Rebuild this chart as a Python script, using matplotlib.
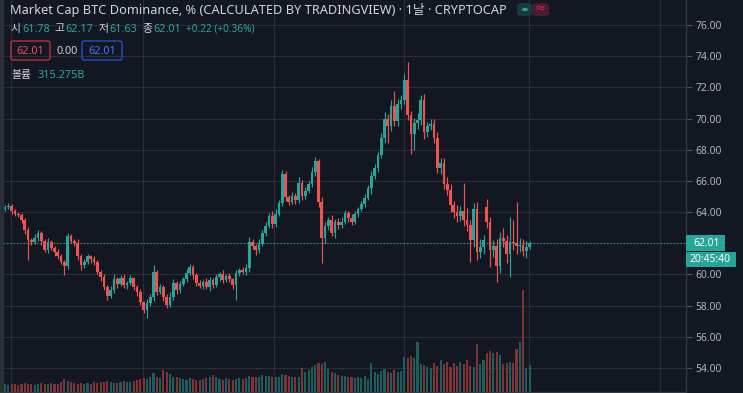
import numpy as np
import matplotlib
matplotlib.use("Agg")
import matplotlib.pyplot as plt
from matplotlib.patches import Rectangle, FancyBboxPatch, Circle
from matplotlib.transforms import blended_transform_factory, Affine2D

plt.rcParams['font.family'] = ['Noto Sans', 'Noto Sans CJK KR', 'DejaVu Sans']

# daily closes, BTC dominance %
closes = [64.33, 64.40, 64.07, 63.88, 63.81, 63.49, 62.85, 62.21, 62.08, 62.34,
          62.66, 62.15, 61.57, 62.08, 61.70, 61.44, 61.18, 60.80, 60.54, 62.47,
          62.15, 62.02, 61.18, 60.61, 60.80, 61.18, 60.99, 60.80, 60.16, 59.84,
          59.20, 58.62, 59.00, 59.70, 59.38, 59.77, 59.32, 59.45, 59.77, 59.20,
          58.87, 58.23, 57.72, 58.17, 58.55, 60.16, 58.87, 59.20, 58.55, 58.04,
          58.55, 59.45, 59.00, 59.38, 59.70, 60.09, 60.48, 59.96, 59.45, 59.26,
          59.51, 59.20, 59.64, 59.32, 59.84, 60.03, 59.64, 59.90, 59.70, 59.32,
          60.09, 60.29, 60.16, 60.41, 62.08, 61.83, 61.57, 61.95, 62.66, 63.11,
          63.75, 63.24, 63.88, 64.58, 66.44, 64.97, 64.65, 65.03, 64.77, 65.87,
          65.03, 65.35, 65.80, 66.57, 67.28, 64.65, 62.34, 63.11, 63.49, 62.66,
          63.36, 63.17, 63.36, 63.94, 63.62, 63.36, 63.88, 64.20, 64.52, 64.90,
          65.55, 66.31, 66.83, 67.66, 68.75, 69.97, 69.52, 70.80, 69.84, 70.93,
          71.19, 72.47, 70.23, 69.01, 69.71, 69.91, 71.19, 69.14, 69.52, 69.65,
          68.75, 66.83, 67.15, 65.80, 65.42, 64.45, 64.00, 63.75, 64.07, 63.49,
          63.17, 62.21, 64.20, 61.44, 61.76, 62.21, 63.36, 61.57, 61.83, 60.54,
          62.34, 62.15, 61.31, 62.08, 62.02, 61.83, 61.89, 61.51, 61.79, 62.01]
first_open = 64.20
gap_opens = {146: 64.30, 159: 61.78}

up_wick = [.15, .20, .10, .15, .10, .15, .10, .20, .15, .25,
           .20, .15, .10, .25, .15, .10, .20, .15, .10, .20,
           .15, .10, .25, .15, .20, .15, .10, .20, .15, .10,
           .20, .15, .25, .30, .15, .20, .25, .15, .20, .10,
           .15, .20, .10, .25, .20, .45, .15, .20, .15, .20,
           .30, .25, .15, .20, .15, .25, .20, .10, .15, .20,
           .15, .25, .20, .15, .20, .10, .25, .15, .20, .10,
           .20, .15, .20, .25, .30, .20, .15, .30, .20, .25,
           .20, .35, .30, .20, .25, .20, .15, .25, .20, .35,
           .20, .25, .20, .30, .25, .15, .30, .25, .20, .30,
           .20, .25, .30, .20, .15, .25, .20, .15, .20, .25,
           .20, .30, .25, .20, .30, .45, .30, .40, .95, .30,
           .35, .40, 1.16, .25, .30, .45, .30, .40, .25, .35,
           .30, .40, .35, .30, .45, .40, .25, .45, .30, 1.80,
           .80, .35, .40, .45, .50, .35, .54, .30, .35, .45,
           .40, .65, .35, 1.60, 1.40, 2.60, .45, .40, .35, .16]

dn_wick = [.10, .15, .20, .10, .15, .20, .25, 1.30, .20, .15,
           .20, .25, .15, .20, .15, .25, .20, .15, .58, .20,
           .15, .20, .25, .30, .20, .15, .25, .20, .15, .25,
           .20, .25, .15, .20, .25, .15, .20, .25, .15, .20,
           .25, .20, .20, .52, .20, .25, .20, .15, .25, .20,
           .15, .20, .25, .20, .15, .20, .15, .25, .20, .15,
           .20, .15, .25, .20, .15, .25, .20, .15, .20, .25,
           .96, .20, .15, .20, .25, .20, .30, .20, .15, .20,
           .15, .25, .20, .15, .20, .25, .20, .15, .25, .20,
           .25, .20, .15, .20, .25, .30, 1.60, .30, .25, .20,
           .30, .25, .20, .15, .25, .20, .15, .20, .15, .20,
           .15, .40, .20, .25, .20, .30, 1.10, .35, .30, .35,
           .30, .25, .35, 1.30, 1.00, .40, .35, .45, .30, .25,
           .35, .30, .40, .35, .30, .45, .35, .40, .30, .35,
           .40, 1.40, .45, .50, .40, .45, .35, 1.10, .45, 1.00,
           .45, .40, .55, 1.50, .45, .50, .40, .35, .45, .15]

# volume, billions USD
volume = [95, 80, 90, 85, 75, 90, 100, 95, 85, 80, 90, 105, 95, 85, 100, 90, 95, 110,
          150, 130, 110, 100, 95, 105, 90, 100, 95, 110, 100, 115, 120, 130, 110, 105,
          100, 120, 125, 110, 115, 130, 135,
          150, 160, 155, 170, 220, 180, 160, 265, 235, 210,
          180, 170, 160, 150, 145, 165, 150, 140, 135, 150, 160, 175, 200, 170, 150,
          145, 160, 150, 140, 155, 165, 150, 160, 190, 175,
          180, 170, 200, 185, 190, 175, 180, 170, 210, 195, 185, 175, 170, 180,
          280, 230, 260, 300, 320, 340, 330, 360, 270, 240, 220, 200, 190,
          185, 175, 180, 165, 170, 160, 190, 155, 350, 230, 210, 250, 270, 240, 220,
          260, 230, 250,
          420, 410, 430, 400, 600, 330, 320, 300, 280, 340,
          310, 380, 330, 360, 300, 340, 310, 360, 330, 380, 310, 300, 570, 330, 380,
          460, 490, 470, 480, 440, 330, 350, 360, 340, 520, 600, 1230, 290, 315.275]

price_ticks = [54, 56, 58, 60, 62, 64, 66, 68, 70, 72, 74, 76]
time_grid = [1.8, 41.8, 81.5, 120.9, 158.8, 198.5]
title = "Market Cap BTC Dominance, % (CALCULATED BY TRADINGVIEW) · 1날 · CRYPTOCAP"
ohlc_legend = [("시", "61.78"), ("고", "62.17"), ("저", "61.63"), ("종", "62.01")]
change_text = "+0.22 (+0.36%)"
countdown = "20:45:40"

BG = '#131722'
GRID = '#2a2e39'
UP = '#26a69a'
DOWN = '#ef5350'
VUP = '#1c5e5c'
VDOWN = '#7e3337'
TEXT = '#d1d4dc'
AXTXT = '#b2b5be'

W, H = 743, 393
fig = plt.figure(figsize=(W / 100, H / 100), dpi=100)
fig.patch.set_facecolor(BG)
ax = fig.add_axes([0, 0, 686 / W, 1])
ax.set_facecolor(BG)

opens = [first_open] + closes[:-1]
for k, v in gap_opens.items():
    opens[k] = v
o = np.array(opens)
c = np.array(closes)
x = np.arange(len(c))
hi = np.maximum(o, c) + np.array(up_wick)
lo = np.minimum(o, c) - np.array(dn_wick)
rising = c >= o
col = np.where(rising, UP, DOWN)
vcol = np.where(rising, VUP, VDOWN)

# volume overlay at the bottom of the pane
vol_full = 4755.0
vol_tr = blended_transform_factory(
    ax.transData, Affine2D().scale(1, 1 / vol_full).translate(0, 1.5 / H) + ax.transAxes)
ax.bar(x, volume, width=0.62, color=vcol, linewidth=0, transform=vol_tr, zorder=1)

ax.vlines(x, lo, hi, colors=col, lw=0.85, zorder=3)
body = np.maximum(np.abs(c - o), 0.06)
ax.bar(x, body, bottom=np.minimum(o, c), width=0.8, color=col, linewidth=0, zorder=4)

last = closes[-1]
ax.axhline(last, color=UP, lw=0.8, ls=(0, (1, 2)), zorder=2)

ax.set_xlim(-5 / 3.3, 681 / 3.3)
ax.set_ylim(52.40, 77.60)
ax.set_xticks(time_grid)
ax.set_xticklabels([])
ax.tick_params(axis='x', length=0)
ax.yaxis.tick_right()
ax.set_yticks(price_ticks)
# the 62.00 label sits under the last-price marker
ax.set_yticklabels(["" if abs(v - last) < 1 else f"{v:.2f}" for v in price_ticks])
ax.tick_params(axis='y', length=4, width=0.8, color='#50535e', labelcolor=AXTXT,
               labelsize=7.4, pad=3)
ax.grid(True, color=GRID, lw=0.9)
ax.set_axisbelow(True)
for s in ['left', 'top', 'bottom']:
    ax.spines[s].set_visible(False)
ax.spines['right'].set_color('#363a45')
ax.spines['right'].set_linewidth(0.9)

# left border strip and bottom border
fig.patches.append(Rectangle((0, 0), 3 / W, 1, transform=fig.transFigure, color=GRID, zorder=5))
fig.patches.append(Rectangle((0, 0), 686 / W, 1.5 / H, transform=fig.transFigure,
                             color='#363a45', zorder=5))

# price / countdown labels on the axis
tr = blended_transform_factory(ax.transAxes, ax.transData)
px_per_unit = 15.59
ax.add_patch(Rectangle((1.0, last - 8 / px_per_unit), 39 / 686, 16 / px_per_unit,
                       transform=tr, fc=UP, ec='none', clip_on=False, zorder=10))
ax.text(1 + 7 / 686, last, f"{last:.2f}", transform=tr, color='white', fontsize=7.4,
        va='center', ha='left', clip_on=False, zorder=11)
ax.add_patch(Rectangle((1.0, last - 24 / px_per_unit), 50 / 686, 15 / px_per_unit,
                       transform=tr, fc=UP, ec='none', clip_on=False, zorder=10))
ax.text(1 + 4 / 686, last - 16.5 / px_per_unit, countdown, transform=tr, color='white',
        fontsize=7.4, va='center', ha='left', clip_on=False, zorder=11)

# header legend
renderer = fig.canvas.get_renderer()


def fx(px):
    return px / W


def fy(py):
    return 1 - py / H


def row(parts, x0, base):
    xx = x0
    for s, colr, gap, size in parts:
        t = fig.text(fx(xx), fy(base), s, color=colr, fontsize=size, va='baseline', ha='left')
        xx = t.get_window_extent(renderer).x1 + gap
    return xx


row([(title, TEXT, 0, 9.2)], 10, 14)

parts = []
for lab, val in ohlc_legend:
    parts.append((lab, TEXT, 1, 7.8))
    parts.append((val, UP, 5, 7.8))
parts.append((change_text, UP, 0, 7.2))
row(parts, 11, 31.7)

# status pills
fig.patches.append(FancyBboxPatch((fx(517), fy(16)), 15 / W, 13 / H, transform=fig.transFigure,
                                  boxstyle='round,pad=0,rounding_size=0.008', fc='#173c3b', ec='none'))
fig.patches.append(FancyBboxPatch((fx(532), fy(16)), 17 / W, 13 / H, transform=fig.transFigure,
                                  boxstyle='round,pad=0,rounding_size=0.008', fc='#4a1b2f', ec='none'))
fig.patches.append(Circle((fx(525), fy(9.5)), 3 / W, transform=fig.transFigure, fc=UP, ec='none'))
fig.text(fx(540.5), fy(9.5), "≈", color='#e0306a', fontsize=8, ha='center', va='center')

# value boxes
fig.patches.append(FancyBboxPatch((fx(11), fy(60)), 39 / W, 19 / H, transform=fig.transFigure,
                                  boxstyle='round,pad=0,rounding_size=0.004', fc='none',
                                  ec='#c8343c', lw=0.9))
fig.text(fx(30.5), fy(54.3), f"{last:.2f}", color='#f0515a', fontsize=7.8, ha='center', va='baseline')
fig.text(fx(67), fy(54.3), "0.00", color=TEXT, fontsize=7.8, ha='center', va='baseline')
fig.patches.append(FancyBboxPatch((fx(82), fy(60)), 40 / W, 19 / H, transform=fig.transFigure,
                                  boxstyle='round,pad=0,rounding_size=0.004', fc='none',
                                  ec='#2057d6', lw=0.9))
fig.text(fx(102), fy(54.3), f"{last:.2f}", color='#3f7bf5', fontsize=7.8, ha='center', va='baseline')

row([("볼륨", TEXT, 7, 7.8), (f"{volume[-1]:.3f}B", UP, 0, 7.8)], 11, 77.7)

fig.savefig("out.png", dpi=100, facecolor=BG)
